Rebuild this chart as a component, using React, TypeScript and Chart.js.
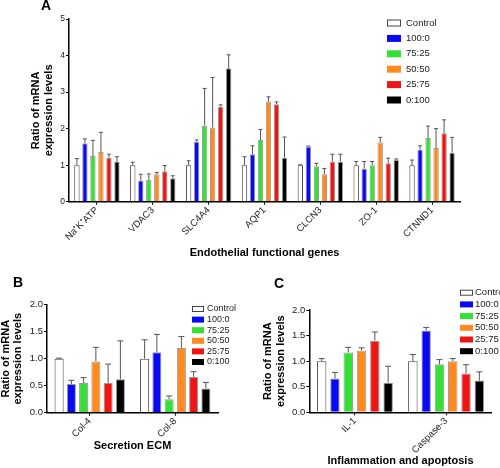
import React, { useEffect, useRef } from "react";
import { Chart, registerables } from "chart.js";
Chart.register(...registerables);

const FONT = '"Liberation Sans", Arial, sans-serif';

const seriesLabels = ["Control", "100:0", "75:25", "50:50", "25:75", "0:100"];
const seriesColors = ["#ffffff", "#0a0af2", "#33e033", "#ff8a1e", "#ee1515", "#000000"];

// Panel A
const genesA = ["Na⁺K⁺ATP", "VDAC3", "SLC4A4", "AQP1", "CLCN3", "ZO-1", "CTNND1"];
const controlA = [1.0, 1.0, 1.0, 1.0, 1.0, 1.0, 1.0];
const r100A = [1.6, 0.58, 1.64, 1.3, 1.5, 0.9, 1.43];
const r75A = [1.25, 0.6, 2.08, 1.69, 0.97, 1.0, 1.74];
const r50A = [1.36, 0.75, 2.03, 2.74, 0.75, 1.62, 1.47];
const r25A = [1.2, 0.83, 2.6, 2.67, 1.1, 1.05, 1.87];
const r0A = [1.1, 0.64, 3.65, 1.2, 1.09, 1.14, 1.34];
const controlATop = [1.18, 1.08, 1.12, 1.23, 1.01, 1.1, 1.14];
const r100ATop = [1.72, 0.75, 1.69, 1.53, 1.52, 1.1, 1.53];
const r75ATop = [1.68, 0.76, 3.1, 1.98, 1.05, 1.1, 2.07];
const r50ATop = [1.9, 0.8, 3.4, 2.87, 0.91, 1.76, 2.0];
const r25ATop = [1.3, 0.99, 2.65, 2.73, 1.3, 1.19, 2.24];
const r0ATop = [1.23, 0.71, 4.02, 1.77, 1.3, 1.17, 1.76];

// Panel B
const genesB = ["Col-4", "Col-8"];
const controlB = [1.0, 1.0];
const r100B = [0.53, 1.12];
const r75B = [0.55, 0.25];
const r50B = [0.95, 1.2];
const r25B = [0.55, 0.66];
const r0B = [0.62, 0.45];
const controlBTop = [1.01, 1.35];
const r100BTop = [0.6, 1.45];
const r75BTop = [0.65, 0.31];
const r50BTop = [1.21, 1.41];
const r25BTop = [0.9, 0.76];
const r0BTop = [1.33, 0.56];

// Panel C
const genesC = ["IL-1", "Caspase-3"];
const controlC = [1.0, 1.0];
const r100C = [0.66, 1.6];
const r75C = [1.17, 0.94];
const r50C = [1.21, 1.0];
const r25C = [1.4, 0.76];
const r0C = [0.58, 0.62];
const controlCTop = [1.05, 1.13];
const r100CTop = [0.78, 1.66];
const r75CTop = [1.27, 1.03];
const r50CTop = [1.26, 1.05];
const r25CTop = [1.57, 0.93];
const r0CTop = [0.9, 0.79];

const yTitle = ["Ratio of mRNA", "expression levels"];

const errorBarPlugin = {
  id: "errorBars",
  afterDatasetsDraw(chart: any, _args: any, opts: any) {
    const ctx = chart.ctx;
    const yScale = chart.scales.y;
    ctx.save();
    ctx.strokeStyle = opts.color;
    ctx.lineWidth = 1;
    chart.data.datasets.forEach((_ds: any, di: number) => {
      const meta = chart.getDatasetMeta(di);
      meta.data.forEach((bar: any, i: number) => {
        const top = opts.tops[di][i];
        const yTop = yScale.getPixelForValue(top);
        ctx.beginPath();
        ctx.moveTo(bar.x, bar.y);
        ctx.lineTo(bar.x, yTop);
        ctx.moveTo(bar.x - opts.cap, yTop);
        ctx.lineTo(bar.x + opts.cap, yTop);
        ctx.stroke();
      });
    });
    ctx.restore();
  },
};

const boxLegendPlugin = {
  id: "boxLegend",
  afterDraw(chart: any, _args: any, opts: any) {
    const ctx = chart.ctx;
    ctx.save();
    ctx.font = `${opts.size}px ${FONT}`;
    ctx.textBaseline = "middle";
    ctx.textAlign = "left";
    chart.data.datasets.forEach((ds: any, i: number) => {
      const y = opts.y + i * opts.row;
      ctx.fillStyle = ds.backgroundColor;
      ctx.fillRect(opts.x, y - opts.bh / 2, opts.bw, opts.bh);
      if (i === 0) {
        ctx.strokeStyle = "#444";
        ctx.lineWidth = 1;
        ctx.strokeRect(opts.x + 0.5, y - opts.bh / 2 + 0.5, opts.bw - 1, opts.bh - 1);
      }
      ctx.fillStyle = "#222";
      ctx.fillText(ds.label, opts.tx, y);
    });
    ctx.restore();
  },
};

type PanelCfg = {
  left: number;
  top: number;
  w: number;
  h: number;
  labels: string[];
  values: number[][];
  tops: number[][];
  yMax: number;
  yStep: number;
  decimals: number;
  yW: number;
  padTop: number;
  padRight: number;
  xH: number;
  xTitle: string;
  xTitlePad: number;
  yTitlePad: number;
  yTitleLH: number;
  titleSize: number;
  yTickSize: number;
  xTickSize: number;
  catPct: number;
  barPct: number;
  cap: number;
  legend: any;
};

function Panel({ cfg }: { cfg: PanelCfg }) {
  const ref = useRef<HTMLCanvasElement>(null);
  useEffect(() => {
    if (!ref.current) return;
    const chart = new Chart(ref.current, {
      type: "bar",
      data: {
        labels: cfg.labels,
        datasets: seriesLabels.map((lab, i) => ({
          label: lab,
          data: cfg.values[i],
          backgroundColor: seriesColors[i],
          borderColor: i === 0 ? "#444" : "rgba(0,0,0,0.4)",
          borderWidth: 1,
          categoryPercentage: cfg.catPct,
          barPercentage: cfg.barPct,
        })),
      },
      options: {
        responsive: false,
        animation: false,
        events: [],
        layout: { padding: { left: 0, top: cfg.padTop, right: cfg.padRight, bottom: 0 } },
        plugins: {
          legend: { display: false },
          tooltip: { enabled: false },
          errorBars: { tops: cfg.tops, cap: cfg.cap, color: "#555" },
          boxLegend: cfg.legend,
        } as any,
        scales: {
          x: {
            grid: { display: true, drawOnChartArea: false, drawTicks: true, tickLength: 3, color: "#000", offset: false },
            border: { display: true, color: "#000", width: 1.5 },
            ticks: {
              minRotation: 45,
              maxRotation: 45,
              autoSkip: false,
              padding: 0,
              color: "#222",
              font: { family: FONT, size: cfg.xTickSize },
            },
            title: {
              display: true,
              text: cfg.xTitle,
              color: "#000",
              font: { family: FONT, size: cfg.titleSize, weight: "bold", lineHeight: 1.2 },
              padding: { top: 0, bottom: cfg.xTitlePad },
            },
            afterFit: (s: any) => {
              s.height = cfg.xH;
            },
          },
          y: {
            min: 0,
            max: cfg.yMax,
            grid: { display: true, drawOnChartArea: false, drawTicks: true, tickLength: 3, color: "#000" },
            border: { display: true, color: "#000", width: 1.5 },
            ticks: {
              stepSize: cfg.yStep,
              padding: 1,
              color: "#222",
              font: { family: FONT, size: cfg.yTickSize },
              callback: (v: any) => Number(v).toFixed(cfg.decimals),
            },
            title: {
              display: true,
              text: yTitle,
              color: "#000",
              font: { family: FONT, size: cfg.titleSize, weight: "bold", lineHeight: cfg.yTitleLH },
              padding: { top: cfg.yTitlePad, bottom: 0 },
            },
            afterFit: (s: any) => {
              s.width = cfg.yW;
            },
          },
        },
      } as any,
      plugins: [errorBarPlugin, boxLegendPlugin],
    });
    return () => chart.destroy();
  }, []);
  return (
    <canvas
      ref={ref}
      width={cfg.w}
      height={cfg.h}
      style={{ position: "absolute", left: cfg.left, top: cfg.top, width: cfg.w, height: cfg.h }}
    />
  );
}

const panelA: PanelCfg = {
  left: 0, top: 0, w: 500, h: 270,
  labels: genesA,
  values: [controlA, r100A, r75A, r50A, r25A, r0A],
  tops: [controlATop, r100ATop, r75ATop, r50ATop, r25ATop, r0ATop],
  yMax: 5, yStep: 1, decimals: 0,
  yW: 69, padTop: 19, padRight: 40, xH: 68.3,
  xTitle: "Endothelial functional genes", xTitlePad: 10,
  yTitlePad: 29, yTitleLH: 1.18, titleSize: 11,
  yTickSize: 8.5, xTickSize: 9.5,
  catPct: 0.86, barPct: 0.67, cap: 2,
  legend: { x: 387, y: 23, row: 15.4, bw: 14, bh: 7, tx: 406, size: 9.5 },
};

const panelB: PanelCfg = {
  left: 0, top: 270, w: 250, h: 198,
  labels: genesB,
  values: [controlB, r100B, r75B, r50B, r25B, r0B],
  tops: [controlBTop, r100BTop, r75BTop, r50BTop, r25BTop, r0BTop],
  yMax: 2, yStep: 0.5, decimals: 1,
  yW: 47, padTop: 34.7, padRight: 32, xH: 55.3,
  xTitle: "Secretion ECM", xTitlePad: 15.7,
  yTitlePad: 0, yTitleLH: 1.1, titleSize: 11,
  yTickSize: 9.5, xTickSize: 9.5,
  catPct: 0.86, barPct: 0.74, cap: 3,
  legend: { x: 192, y: 39, row: 10.6, bw: 12, bh: 6, tx: 207, size: 9 },
};

const panelC: PanelCfg = {
  left: 250, top: 270, w: 250, h: 198,
  labels: genesC,
  values: [controlC, r100C, r75C, r50C, r25C, r0C],
  tops: [controlCTop, r100CTop, r75CTop, r50CTop, r25CTop, r0CTop],
  yMax: 2, yStep: 0.5, decimals: 1,
  yW: 59.3, padTop: 40, padRight: 8.3, xH: 55.7,
  xTitle: "Inflammation and apoptosis", xTitlePad: 0,
  yTitlePad: 12, yTitleLH: 1.15, titleSize: 11,
  yTickSize: 9.5, xTickSize: 9.5,
  catPct: 0.875, barPct: 0.71, cap: 3,
  legend: { x: 210, y: 22.7, row: 11.7, bw: 13, bh: 6, tx: 225, size: 9.5 },
};

const labelStyle: React.CSSProperties = {
  position: "absolute",
  fontFamily: FONT,
  fontWeight: "bold",
  fontSize: 14,
  lineHeight: "14px",
  color: "#000",
};

export default function App() {
  return (
    <div
      style={{
        position: "fixed",
        left: 0,
        top: 0,
        width: 500,
        height: 468,
        background: "#fff",
        overflow: "hidden",
      }}
    >
      <Panel cfg={panelA} />
      <Panel cfg={panelB} />
      <Panel cfg={panelC} />
      <div style={{ ...labelStyle, left: 41, top: -2 }}>A</div>
      <div style={{ ...labelStyle, left: 13, top: 275 }}>B</div>
      <div style={{ ...labelStyle, left: 274, top: 276 }}>C</div>
    </div>
  );
}
